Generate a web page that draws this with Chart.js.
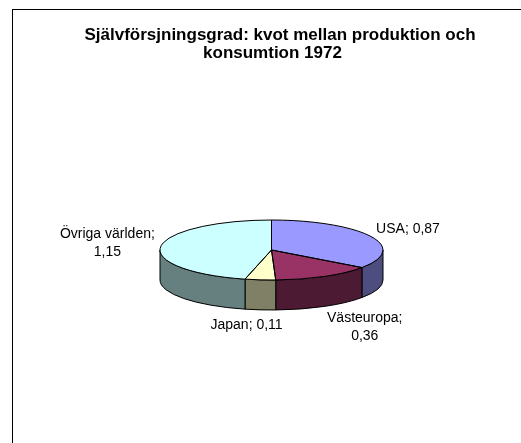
<!DOCTYPE html>
<html><head><meta charset="utf-8">
<script src="https://cdn.jsdelivr.net/npm/chart.js@4.4.1/dist/chart.umd.min.js"></script>
<style>
html,body{margin:0;padding:0;background:#fff;overflow:hidden;}
#wrap{position:relative;width:521px;height:443px;overflow:hidden;background:#fff;}
#frame{position:absolute;left:12px;top:9px;width:700px;height:600px;border-left:1px solid #000;border-top:1px solid #000;}
.t{position:absolute;font-family:"Liberation Sans",Arial,sans-serif;font-weight:bold;font-size:17px;line-height:18px;white-space:nowrap;color:#000;transform:translateX(-50%);}
canvas{position:absolute;left:0;top:0;}
</style></head><body>
<div id="wrap">
<div id="frame"></div>
<canvas id="c" width="521" height="443"></canvas>
<div class="t" id="t1" style="left:280px;top:26px"></div>
<div class="t" id="t2" style="left:272.5px;top:44px"></div>
</div>
<script>
const categories = ['USA', 'Västeuropa', 'Japan', 'Övriga världen'];
const values = [0.87, 0.36, 0.11, 1.15];
const titleLines = ['Självförsjningsgrad: kvot mellan produktion och', 'konsumtion 1972'];
const topColors = ['#9999FF', '#993366', '#FFFFCC', '#CCFFFF'];
const sideColors = ['#4D4D80', '#4D1A33', '#808066', '#668080'];

document.getElementById('t1').textContent = titleLines[0];
document.getElementById('t2').textContent = titleLines[1];

const TILT = 30 / 111.5;   // vertical squash of the pie top
const DEPTH = 30 / 111.5;  // side height relative to radius

function fmt(v) { return v.toFixed(2).replace('.', ','); }

function geom(chart) {
  const arcs = chart.getDatasetMeta(0).data;
  const a0 = arcs[0];
  return { arcs, cx: a0.x, cy: a0.y, R: a0.outerRadius };
}

const pie3d = {
  id: 'pie3d',
  beforeDatasetsDraw(chart) {
    const ctx = chart.ctx;
    const { arcs, cx, cy, R } = geom(chart);
    const ry = R * TILT, d = R * DEPTH;
    ctx.save();
    ctx.lineWidth = 1;
    ctx.strokeStyle = '#000';
    ctx.lineJoin = 'round';
    arcs.forEach((arc, i) => {
      const s = arc.startAngle, e = arc.endAngle;
      for (const off of [-2 * Math.PI, 0, 2 * Math.PI]) {
        const a1 = Math.max(s, off), a2 = Math.min(e, off + Math.PI);
        if (a2 - a1 > 1e-6) {
          ctx.beginPath();
          ctx.ellipse(cx, cy, R, ry, 0, a1, a2);
          ctx.ellipse(cx, cy + d, R, ry, 0, a2, a1, true);
          ctx.closePath();
          ctx.fillStyle = sideColors[i];
          ctx.fill();
          ctx.stroke();
        }
      }
    });
    ctx.restore();
    ctx.save();
    ctx.translate(cx, cy);
    ctx.scale(1, TILT);
    ctx.translate(-cx, -cy);
  },
  afterDatasetsDraw(chart) {
    const ctx = chart.ctx;
    ctx.restore();
    const { arcs, cx, cy, R } = geom(chart);
    const ry = R * TILT, d = R * DEPTH;
    ctx.save();
    ctx.lineWidth = 1;
    ctx.strokeStyle = '#000';
    ctx.lineJoin = 'round';
    arcs.forEach(arc => {
      ctx.beginPath();
      ctx.moveTo(cx, cy);
      ctx.ellipse(cx, cy, R, ry, 0, arc.startAngle, arc.endAngle);
      ctx.closePath();
      ctx.stroke();
    });
    ctx.font = '14px "Liberation Sans", Arial, sans-serif';
    ctx.fillStyle = '#000';
    ctx.textAlign = 'center';
    ctx.textBaseline = 'middle';
    const LH = 18, GAP = 6, MAXW = 85;
    arcs.forEach((arc, i) => {
      const full = categories[i] + '; ' + fmt(values[i]);
      const lines = ctx.measureText(full).width > MAXW ? [categories[i] + ';', fmt(values[i])] : [full];
      const w = Math.max(...lines.map(l => ctx.measureText(l).width));
      const h = lines.length * LH;
      const mid = (arc.startAngle + arc.endAngle) / 2;
      const c = Math.cos(mid), s = Math.sin(mid);
      const ex = cx + R * c, ey = cy + ry * s + (s > 0 ? d : 0);
      const fx = Math.min(1, Math.max(0, 0.5 - 1.8 * c));
      const fy = (1 - s) / 2;
      const left = ex + GAP * c - w * fx;
      const top = ey + GAP * s - h * fy;
      lines.forEach((l, j) => ctx.fillText(l, left + w / 2, top + LH * (j + 0.5)));
    });
    ctx.restore();
  }
};

new Chart(document.getElementById('c'), {
  type: 'pie',
  data: {
    labels: categories,
    datasets: [{
      data: values,
      backgroundColor: topColors,
      borderWidth: 0,
      hoverBorderWidth: 0,
      hoverOffset: 0,
      offset: 0,
      clip: false
    }]
  },
  options: {
    responsive: false,
    animation: false,
    events: [],
    devicePixelRatio: 1,
    layout: { padding: { left: 160, right: 138, top: 138.5, bottom: 81.5 } },
    plugins: { legend: { display: false }, title: { display: false }, tooltip: { enabled: false } }
  },
  plugins: [pie3d]
});
</script>
</body></html>
